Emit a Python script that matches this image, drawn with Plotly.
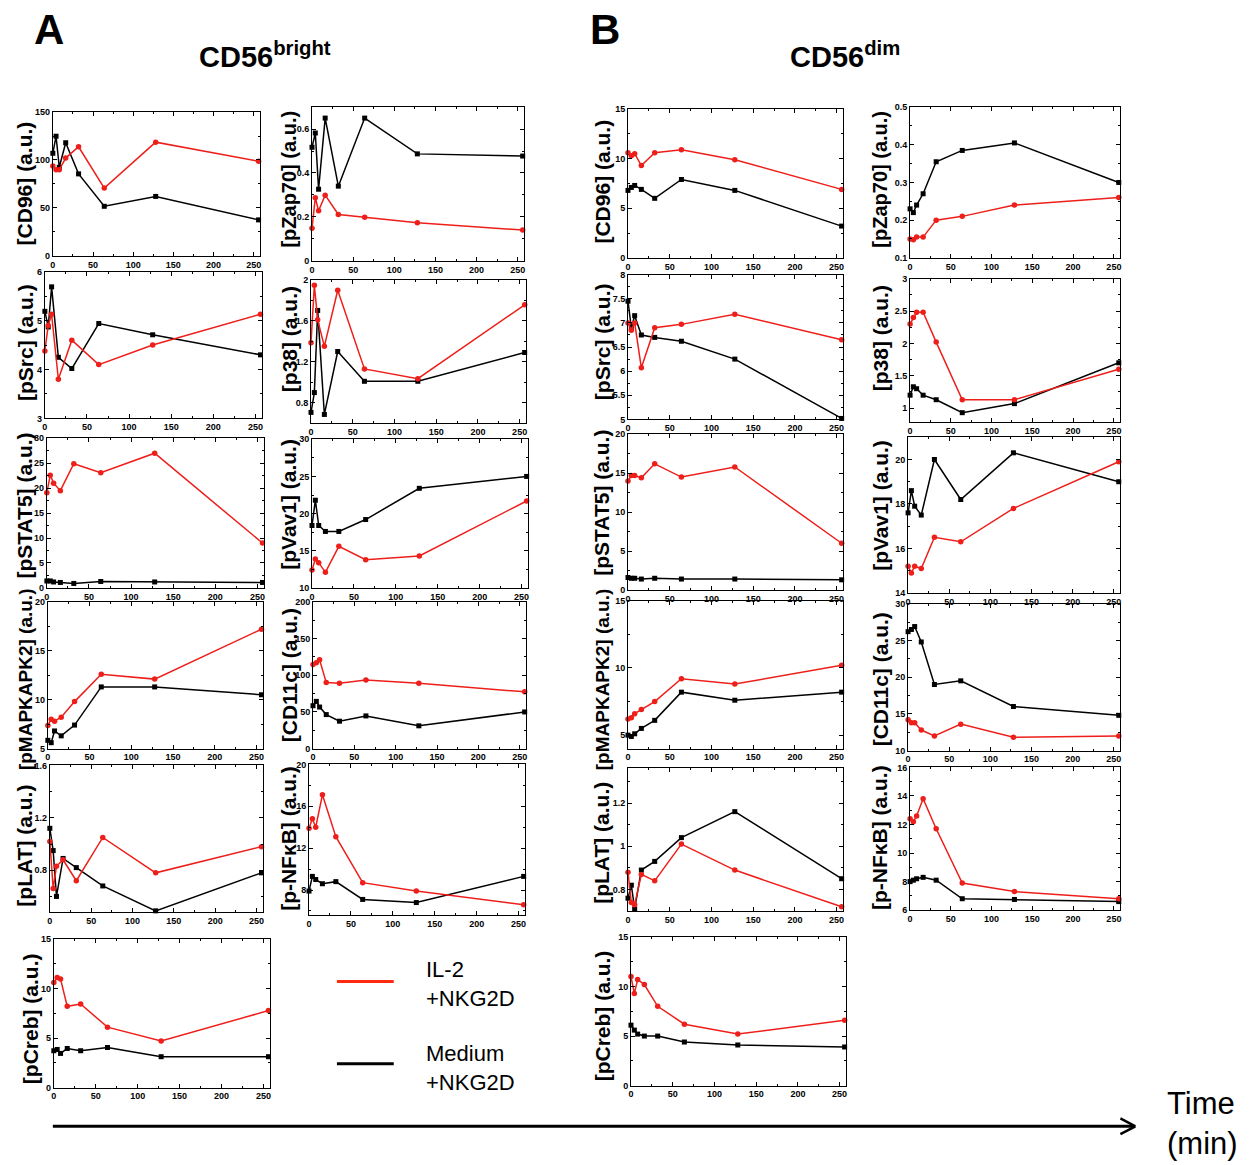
import plotly.graph_objects as go

# ---------------- data ----------------
time_min = [0, 4, 8, 16, 32, 64, 128, 256]
x_tickvals = [0, 50, 100, 150, 200, 250]

# Panel A : CD56bright
A_CD96_IL2 = [93.8, 89.7, 89.7, 102, 113.8, 70.7, 118.6, 98.6]
A_CD96_MED = [107, 124.8, 92.4, 118, 85.5, 51.7, 62, 37.5]
A_pZap70_IL2 = [0.148, 0.287, 0.228, 0.299, 0.211, 0.198, 0.173, 0.140]
A_pZap70_MED = [0.517, 0.582, 0.326, 0.65, 0.34, 0.65, 0.487, 0.477]
A_pSrc_IL2 = [4.38, 4.9, 5.13, 3.8, 4.6, 4.1, 4.5, 5.13]
A_pSrc_MED = [5.19, 4.87, 5.69, 4.25, 4.02, 4.94, 4.71, 4.3]
A_p38_IL2 = [1.385, 1.945, 1.608, 1.35, 1.897, 1.13, 1.035, 1.755]
A_p38_MED = [0.707, 0.9, 1.70, 0.687, 1.30, 1.01, 1.01, 1.29]
A_pSTAT5_IL2 = [19.1, 22.6, 21.0, 19.5, 24.9, 23.1, 27.0, 9.0]
A_pSTAT5_MED = [1.4, 1.4, 1.2, 1.1, 0.9, 1.3, 1.2, 1.1]
A_pVav1_IL2 = [12.4, 13.9, 13.4, 12.1, 15.6, 13.8, 14.3, 21.7]
A_pVav1_MED = [18.4, 21.8, 18.4, 17.6, 17.6, 19.2, 23.4, 25.0]
A_pMAPKAPK2_IL2 = [7.36, 8.0, 7.8, 8.2, 9.8, 12.6, 12.1, 17.2]
A_pMAPKAPK2_MED = [5.84, 5.6, 6.8, 6.3, 7.4, 11.3, 11.3, 10.5]
A_CD11c_IL2 = [114.6, 116.9, 120.9, 89.9, 89, 93.5, 89, 77.3]
A_CD11c_MED = [58.4, 64.3, 56.6, 46.3, 37.3, 44.5, 31, 49.9]
A_pLAT_IL2 = [1.02, 0.66, 0.83, 0.88, 0.72, 1.05, 0.78, 0.98]
A_pLAT_MED = [1.12, 0.95, 0.60, 0.89, 0.82, 0.68, 0.49, 0.78]
A_pNFkB_IL2 = [13.9, 14.8, 14.0, 17.1, 13.1, 8.7, 7.9, 6.6]
A_pNFkB_MED = [7.9, 9.3, 9.0, 8.6, 8.8, 7.1, 6.8, 9.3]
A_pCreb_IL2 = [10.6, 11.1, 10.95, 8.2, 8.43, 6.1, 4.7, 7.77]
A_pCreb_MED = [3.72, 3.85, 3.45, 3.95, 3.72, 4.05, 3.12, 3.12]

# Panel B : CD56dim
B_CD96_IL2 = [10.6, 10.3, 10.5, 9.3, 10.6, 10.9, 9.9, 6.9]
B_CD96_MED = [6.8, 7.1, 7.3, 6.9, 6.0, 7.9, 6.8, 3.2]
B_pZap70_IL2 = [0.15, 0.148, 0.155, 0.155, 0.20, 0.21, 0.24, 0.26]
B_pZap70_MED = [0.23, 0.22, 0.24, 0.27, 0.355, 0.385, 0.405, 0.30]
B_pSrc_IL2 = [7.0, 6.85, 7.0, 6.07, 6.9, 6.97, 7.18, 6.65]
B_pSrc_MED = [7.45, 6.9, 7.15, 6.75, 6.7, 6.62, 6.25, 5.02]
B_p38_IL2 = [2.3, 2.4, 2.48, 2.48, 2.02, 1.13, 1.13, 1.6]
B_p38_MED = [1.2, 1.33, 1.3, 1.2, 1.13, 0.93, 1.07, 1.7]
B_pSTAT5_IL2 = [14.0, 14.7, 14.7, 14.4, 16.2, 14.5, 15.8, 6.0]
B_pSTAT5_MED = [1.6, 1.5, 1.5, 1.4, 1.5, 1.4, 1.4, 1.3]
B_pVav1_IL2 = [15.2, 14.9, 15.2, 15.1, 16.5, 16.3, 17.8, 19.9]
B_pVav1_MED = [17.6, 18.6, 17.9, 17.5, 20.0, 18.2, 20.3, 19.0]
B_pMAPKAPK2_IL2 = [6.2, 6.3, 6.6, 6.9, 7.5, 9.2, 8.8, 10.2]
B_pMAPKAPK2_MED = [5.0, 4.9, 5.1, 5.5, 6.1, 8.2, 7.6, 8.2]
B_CD11c_IL2 = [14.2, 13.8, 13.8, 12.8, 12.0, 13.6, 11.8, 12.0]
B_CD11c_MED = [26.2, 26.5, 26.9, 24.8, 19.0, 19.5, 16.0, 14.8]
B_pLAT_IL2 = [0.88, 0.74, 0.73, 0.87, 0.84, 1.01, 0.89, 0.72]
B_pLAT_MED = [0.76, 0.82, 0.71, 0.89, 0.93, 1.04, 1.16, 0.85]
B_pNFkB_IL2 = [12.4, 12.2, 12.6, 13.8, 11.7, 7.9, 7.3, 6.8]
B_pNFkB_MED = [8.0, 8.1, 8.2, 8.3, 8.1, 6.8, 6.75, 6.6]
B_pCreb_IL2 = [11.0, 9.3, 10.7, 10.2, 8.0, 6.2, 5.2, 6.6]
B_pCreb_MED = [6.1, 5.6, 5.2, 5.0, 5.0, 4.4, 4.1, 3.9]

# ---------------- layout helpers ----------------
W, H = 1249, 1165
RED = "#ee1f1a"
BLACK = "#000000"
FONT = "Liberation Sans, Arial, Helvetica, sans-serif"


def fx(p):
    return p / W


def fy(p):
    return 1 - p / H


# (label, il2, medium, rect(left, top, right, bottom), yrange, ytickvals, label_x, label_y, label_size)
panels = [
    ("[CD96] (a.u.)", A_CD96_IL2, A_CD96_MED, (50, 108, 258, 253), [0, 150], [0, 50, 100, 150], 22, 180, 21),
    ("[pZap70] (a.u.)", A_pZap70_IL2, A_pZap70_MED, (310, 103, 523, 258), [0, 0.7], [0, 0.2, 0.4, 0.6], 287, 176, 20),
    ("[pSrc] (a.u.)", A_pSrc_IL2, A_pSrc_MED, (42, 269, 260, 417), [3, 6], [3, 4, 5, 6], 22, 340, 21),
    ("[p38] (a.u.)", A_p38_IL2, A_p38_MED, (309, 277, 525, 422), [0.6, 2.0], [0.8, 1.2, 1.6, 2.0], 287, 337, 21),
    ("[pSTAT5] (a.u.)", A_pSTAT5_IL2, A_pSTAT5_MED, (44, 437, 262, 588), [0, 30], [0, 5, 10, 15, 20, 25, 30], 22, 505, 21),
    ("[pVav1] (a.u.)", A_pVav1_IL2, A_pVav1_MED, (310, 438, 527, 588), [10, 30], [10, 15, 20, 25, 30], 287, 504, 21),
    ("[pMAPKAPK2] (a.u.)", A_pMAPKAPK2_IL2, A_pMAPKAPK2_MED, (45, 602, 261, 750), [5, 20], [5, 10, 15, 20], 22, 680, 19),
    ("[CD11c] (a.u.)", A_CD11c_IL2, A_CD11c_MED, (311, 602, 525, 750), [0, 200], [0, 50, 100, 150, 200], 287, 676, 21),
    ("[pLAT] (a.u.)", A_pLAT_IL2, A_pLAT_MED, (47, 767, 261, 915), [0.48, 1.6], [0.8, 1.2, 1.6], 22, 848, 21),
    ("[p-NFκB] (a.u.)", A_pNFkB_IL2, A_pNFkB_MED, (307, 766, 524, 918), [5.6, 20], [8, 12, 16, 20], 287, 841, 21),
    ("[pCreb] (a.u.)", A_pCreb_IL2, A_pCreb_MED, (51, 942, 268, 1092), [0, 15], [0, 5, 10, 15], 27, 1022, 21),
    ("[CD96] (a.u.)", B_CD96_IL2, B_CD96_MED, (627, 105, 843, 255), [0, 15], [0, 5, 10, 15], 601, 178, 21),
    ("[pZap70] (a.u.)", B_pZap70_IL2, B_pZap70_MED, (910, 103, 1121, 255), [0.1, 0.5], [0.1, 0.2, 0.3, 0.4, 0.5], 880, 176, 20),
    ("[pSrc] (a.u.)", B_pSrc_IL2, B_pSrc_MED, (627, 272, 843, 418), [5, 8], [5, 5.5, 6, 6.5, 7, 7.5, 8], 601, 340, 21),
    ("[p38] (a.u.)", B_p38_IL2, B_p38_MED, (910, 276, 1121, 421), [0.78, 3], [1, 1.5, 2, 2.5, 3], 880, 336, 21),
    ("[pSTAT5] (a.u.)", B_pSTAT5_IL2, B_pSTAT5_MED, (627, 433, 843, 590), [0, 20], [0, 5, 10, 15, 20], 601, 502, 21),
    ("[pVav1] (a.u.)", B_pVav1_IL2, B_pVav1_MED, (908, 436, 1121, 593), [14, 21], [14, 16, 18, 20], 880, 505, 21),
    ("[pMAPKAPK2] (a.u.)", B_pMAPKAPK2_IL2, B_pMAPKAPK2_MED, (627, 601, 843, 750), [4, 15], [5, 10, 15], 601, 680, 19),
    ("[CD11c] (a.u.)", B_CD11c_IL2, B_CD11c_MED, (908, 604, 1121, 752), [10, 30], [10, 15, 20, 25, 30], 880, 680, 21),
    ("[pLAT] (a.u.)", B_pLAT_IL2, B_pLAT_MED, (627, 770, 843, 914), [0.7, 1.36], [0.8, 1.0, 1.2], 601, 845, 21),
    ("[p-NFκB] (a.u.)", B_pNFkB_IL2, B_pNFkB_MED, (910, 769, 1121, 913), [6, 16], [6, 8, 10, 12, 14, 16], 880, 840, 21),
    ("[pCreb] (a.u.)", B_pCreb_IL2, B_pCreb_MED, (630, 940, 846, 1090), [0, 15], [0, 5, 10, 15], 601, 1020, 21),
]

fig = go.Figure()
layout = dict(
    width=W, height=H, autosize=False,
    margin=dict(l=0, r=0, t=0, b=0),
    paper_bgcolor="white", plot_bgcolor="white",
    showlegend=False,
    font=dict(family=FONT, color="black"),
)
annotations = []
shapes = []

tickfont = dict(family=FONT, size=9, color="black", weight="bold")

for i, (label, il2, med, rect, yr, ytv, lx, ly, lsize) in enumerate(panels, start=1):
    left, top, right, bottom = rect
    xa = "xaxis" if i == 1 else f"xaxis{i}"
    ya = "yaxis" if i == 1 else f"yaxis{i}"
    xr = "x" if i == 1 else f"x{i}"
    yref = "y" if i == 1 else f"y{i}"
    layout[xa] = dict(
        domain=[fx(left), fx(right)], anchor=yref, range=[0, 258],
        tickvals=x_tickvals, ticks="inside", ticklen=4, tickwidth=1,
        minor=dict(ticks="inside", ticklen=2, dtick=25, tick0=0, tickcolor="black"),
        showline=True, linecolor="black", linewidth=1, mirror="allticks",
        showgrid=False, zeroline=False, tickfont=tickfont, tickcolor="black",
    )
    ystep = ytv[1] - ytv[0]
    layout[ya] = dict(
        domain=[fy(bottom), fy(top)], anchor=xr, range=yr,
        tickvals=ytv, ticks="inside", ticklen=4, tickwidth=1,
        minor=dict(ticks="inside", ticklen=2, dtick=ystep / 2, tick0=ytv[0], tickcolor="black"),
        showline=True, linecolor="black", linewidth=1, mirror="allticks",
        showgrid=False, zeroline=False, tickfont=tickfont, tickcolor="black",
    )
    fig.add_trace(go.Scatter(
        x=time_min, y=med, mode="lines+markers", name="Medium +NKG2D",
        line=dict(color=BLACK, width=1.5),
        marker=dict(symbol="square", size=5, color=BLACK),
        xaxis=xr, yaxis=yref, cliponaxis=False,
    ))
    fig.add_trace(go.Scatter(
        x=time_min, y=il2, mode="lines+markers", name="IL-2 +NKG2D",
        line=dict(color=RED, width=1.5),
        marker=dict(symbol="circle", size=5.5, color=RED),
        xaxis=xr, yaxis=yref, cliponaxis=False,
    ))
    annotations.append(dict(
        text=f"<b>{label}</b>", x=fx(lx), y=fy(ly), xref="paper", yref="paper",
        xanchor="center", yanchor="middle", textangle=-90, showarrow=False,
        font=dict(family=FONT, size=lsize, color="black"),
    ))

# Titles
annotations += [
    dict(text="<b>A</b>", x=fx(46), y=fy(25), xref="paper", yref="paper", showarrow=False,
         xanchor="center", yanchor="middle", font=dict(family=FONT, size=42, color="black")),
    dict(text="<b>B</b>", x=fx(604), y=fy(25), xref="paper", yref="paper", showarrow=False,
         xanchor="center", yanchor="middle", font=dict(family=FONT, size=42, color="black")),
    dict(text="<b>CD56<sup>bright</sup></b>", x=fx(263), y=fy(50), xref="paper", yref="paper",
         showarrow=False, xanchor="center", yanchor="middle", font=dict(family=FONT, size=29, color="black")),
    dict(text="<b>CD56<sup>dim</sup></b>", x=fx(845), y=fy(50), xref="paper", yref="paper",
         showarrow=False, xanchor="center", yanchor="middle", font=dict(family=FONT, size=29, color="black")),
]

# Legend (drawn manually)
shapes += [
    dict(type="line", xref="paper", yref="paper", x0=fx(335), x1=fx(392), y0=fy(985), y1=fy(985),
         line=dict(color="#ff2a10", width=3)),
    dict(type="line", xref="paper", yref="paper", x0=fx(335), x1=fx(392), y0=fy(1068), y1=fy(1068),
         line=dict(color="black", width=3)),
]
annotations += [
    dict(text="IL-2<br>+NKG2D", x=fx(422), y=fy(987), xref="paper", yref="paper", showarrow=False,
         xanchor="left", yanchor="middle", align="left", font=dict(family=FONT, size=22, color="black")),
    dict(text="Medium<br>+NKG2D", x=fx(422), y=fy(1072), xref="paper", yref="paper", showarrow=False,
         xanchor="left", yanchor="middle", align="left", font=dict(family=FONT, size=22, color="black")),
]

# Time arrow
shapes += [
    dict(type="line", xref="paper", yref="paper", x0=fx(50), x1=fx(1135), y0=fy(1131), y1=fy(1131),
         line=dict(color="black", width=3)),
    dict(type="line", xref="paper", yref="paper", x0=fx(1121), x1=fx(1136), y0=fy(1123), y1=fy(1131),
         line=dict(color="black", width=2.5)),
    dict(type="line", xref="paper", yref="paper", x0=fx(1121), x1=fx(1136), y0=fy(1139), y1=fy(1131),
         line=dict(color="black", width=2.5)),
]
annotations.append(dict(
    text="Time<br>(min)", x=fx(1166), y=fy(1128), xref="paper", yref="paper", showarrow=False,
    xanchor="left", yanchor="middle", align="left", font=dict(family=FONT, size=31, color="black"),
))

layout["annotations"] = annotations
layout["shapes"] = shapes
fig.update_layout(**layout)

fig.write_html(
    "out.html",
    include_plotlyjs=True,
    config={"displayModeBar": False},
    post_script="document.body.style.margin='0';document.body.style.overflow='hidden';",
)
